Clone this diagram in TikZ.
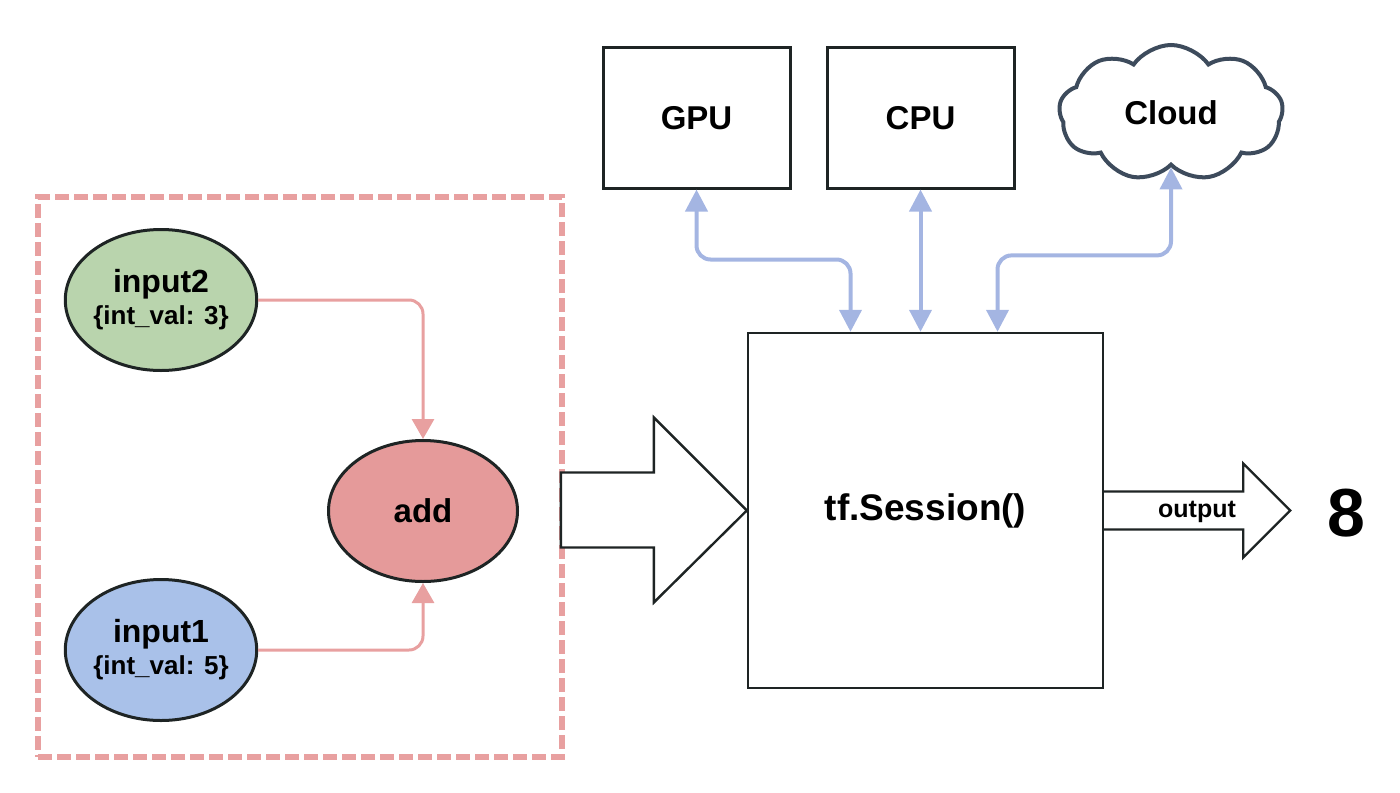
\documentclass[tikz,border=0pt]{standalone}
\usepackage{fontspec}
\setmainfont{Liberation Sans}
\usetikzlibrary{arrows.meta,positioning,shapes.geometric,shapes.symbols}
\definecolor{pinkline}{HTML}{E8A0A0}
\definecolor{addfill}{HTML}{E59A9A}
\definecolor{in1fill}{HTML}{A9C1E9}
\definecolor{in2fill}{HTML}{B9D4AD}
\definecolor{devlink}{HTML}{A4B5E2}
\definecolor{cloudline}{HTML}{3D4B5C}
\definecolor{boxline}{HTML}{1E2424}

\begin{document}
\begin{tikzpicture}[x=0.5pt,y=-0.5pt,>={Triangle[width=11pt,length=10pt]},thick,
  op node/.style={ellipse,draw=boxline,line width=1.5pt,minimum width=94.5pt,minimum height=70.5pt,inner sep=0pt,align=center,font=\fontsize{16}{17}\bfseries},
  dev node/.style={rectangle,draw=boxline,line width=1.5pt,minimum width=93.5pt,minimum height=70pt,font=\fontsize{16.5}{18}\bfseries},
  op link/.style={->,draw=pinkline,line width=1.5pt,rounded corners=7pt},
  dev link/.style={<->,draw=devlink,line width=2pt,rounded corners=7pt,>={Triangle[width=11pt,length=11pt]}},
  block arrow/.style={draw=boxline,line width=1.2pt,fill=white,line join=miter}]
    \useasboundingbox (0,0) rectangle (1400,792);

    % graph part
    \node[draw=pinkline,line width=3pt,dash pattern=on 7pt off 2.5pt,minimum width=262pt,minimum height=280pt] (graph) at (300,477) {};
    \node[op node,fill=in2fill] (in2) at (161,300) {input2\\[-1pt]{\fontsize{13}{14}\selectfont\{int\_val: 3\}}};
    \node[op node,fill=in1fill] (in1) at (161,650) {input1\\[-1pt]{\fontsize{13}{14}\selectfont\{int\_val: 5\}}};
    \node[op node,fill=addfill,font=\fontsize{16.5}{18}\bfseries] (add) at (423,511) {add};
    \draw[op link] (in2.east) -| (add.north);
    \draw[op link] (in1.east) -| (add.south);

    % session and devices
    \node[draw=boxline,line width=1.2pt,minimum size=177.5pt,font=\fontsize{18.5}{20}\bfseries] (sess) at (925.5,510.5) {tf.Session()};
    \node[dev node] (gpu) at (696.5,118) {GPU};
    \node[dev node,right=17pt of gpu] (cpu) {CPU};
    \node[cloud,draw=cloudline,line width=2pt,cloud puffs=9,cloud puff arc=110,aspect=1.6,minimum width=112pt,minimum height=68pt,font=\fontsize{16.5}{18}\bfseries] (cloud) at (1171,113) {Cloud};

    \coordinate (s1) at ([xshift=-37.5pt]sess.north);
    \coordinate (s3) at ([xshift=36pt]sess.north);
    \draw[dev link] (gpu.south) -- ++(0,70) -| (s1);
    \draw[dev link] (cpu.south) -- (cpu.south |- sess.north);
    \draw[dev link] (cloud.south) -- ++(0,88) -| (s3);

    % big arrows
    \draw[block arrow] (sess.west) -- ++(-93,-93) -- ++(0,55) -- ++(-93,0) -- ++(0,75) -- ++(93,0) -- ++(0,55) -- cycle;
    \draw[block arrow] (sess.east) ++(0,-19) -- ++(139,0) -- ++(0,-28) -- ++(47,47) -- ++(-47,47) -- ++(0,-28) -- ++(-139,0);
    \node[font=\fontsize{12.5}{14}\bfseries] (outlbl) at (1197,512) {output};
    \node[font=\fontsize{34}{36}\bfseries] (result) at (1346,513) {8};
\end{tikzpicture}
\end{document}
